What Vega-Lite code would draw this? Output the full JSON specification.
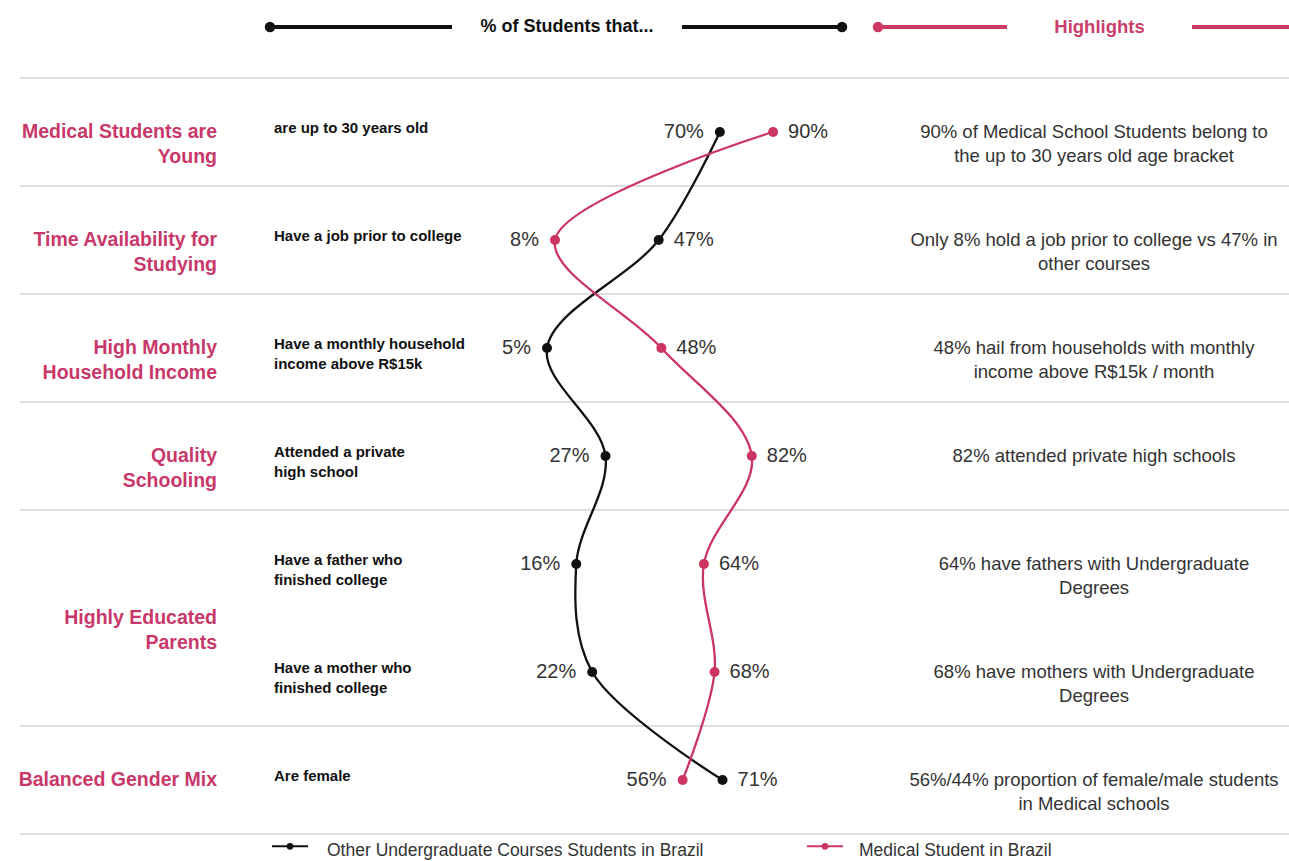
{
  "$schema": "https://vega.github.io/schema/vega-lite/v6.json",
  "background": "white",
  "padding": {"left": 18, "top": 0, "right": 0, "bottom": 0},
  "spacing": 0,
  "config": {
    "view": {"stroke": null},
    "concat": {"spacing": 0},
    "text": {"font": "Liberation Sans"}
  },
  "datasets": {
    "items": [
      {"key": "age", "statement": "are up to 30 years old", "highlight": "90% of Medical School Students belong to\nthe up to 30 years old age bracket"},
      {"key": "job", "statement": "Have a job prior to college", "highlight": "Only 8% hold a job prior to college vs 47% in\nother courses"},
      {"key": "income", "statement": "Have a monthly household\nincome above R$15k", "highlight": "48% hail from households with monthly\nincome above R$15k / month"},
      {"key": "school", "statement": "Attended a private\nhigh school", "highlight": "82% attended private high schools"},
      {"key": "father", "statement": "Have a father who\nfinished college", "highlight": "64% have fathers with Undergraduate\nDegrees"},
      {"key": "mother", "statement": "Have a mother who\nfinished college", "highlight": "68% have mothers with Undergraduate\nDegrees"},
      {"key": "female", "statement": "Are female", "highlight": "56%/44% proportion of female/male students\nin Medical schools"}
    ],
    "groups": [
      {"group": "Medical Students are\nYoung", "first": "age"},
      {"group": "Time Availability for\nStudying", "first": "job"},
      {"group": "High Monthly\nHousehold Income", "first": "income"},
      {"group": "Quality\nSchooling", "first": "school"},
      {"group": "Highly Educated\nParents", "first": "father"},
      {"group": "Balanced Gender Mix", "first": "female"}
    ],
    "values": [
      {"series": "Other Undergraduate Courses Students in Brazil", "key": "age", "pct": 0.70},
      {"series": "Other Undergraduate Courses Students in Brazil", "key": "job", "pct": 0.47},
      {"series": "Other Undergraduate Courses Students in Brazil", "key": "income", "pct": 0.05},
      {"series": "Other Undergraduate Courses Students in Brazil", "key": "school", "pct": 0.27},
      {"series": "Other Undergraduate Courses Students in Brazil", "key": "father", "pct": 0.16},
      {"series": "Other Undergraduate Courses Students in Brazil", "key": "mother", "pct": 0.22},
      {"series": "Other Undergraduate Courses Students in Brazil", "key": "female", "pct": 0.71},
      {"series": "Medical Student in Brazil", "key": "age", "pct": 0.90},
      {"series": "Medical Student in Brazil", "key": "job", "pct": 0.08},
      {"series": "Medical Student in Brazil", "key": "income", "pct": 0.48},
      {"series": "Medical Student in Brazil", "key": "school", "pct": 0.82},
      {"series": "Medical Student in Brazil", "key": "father", "pct": 0.64},
      {"series": "Medical Student in Brazil", "key": "mother", "pct": 0.68},
      {"series": "Medical Student in Brazil", "key": "female", "pct": 0.56}
    ]
  },
  "vconcat": [
    {
      "spacing": 0,
      "bounds": "flush",
      "hconcat": [
        {"width": 250, "height": 54, "data": {"values": [{}]}, "mark": {"type": "text"}, "encoding": {"text": {"value": ""}}},
        {"width": 182, "height": 54, "data": {"values": [{}]}, "layer": [
          {"mark": {"type": "rule", "color": "#111111", "strokeWidth": 4}, "encoding": {"y": {"datum": 0, "type": "quantitative", "scale": {"domain": [-1, 1]}, "axis": null}}},
          {"mark": {"type": "point", "filled": true, "color": "#111111", "size": 110, "opacity": 1}, "encoding": {"x": {"datum": 0, "type": "quantitative", "scale": {"domain": [0, 1]}, "axis": null}, "y": {"datum": 0, "type": "quantitative", "scale": {"domain": [-1, 1]}, "axis": null}}}
        ]},
        {"width": 230, "height": 54, "data": {"values": [{"label": "% of Students that..."}]}, "mark": {"type": "text", "fontSize": 18, "fontWeight": "bold", "color": "#111111"}, "encoding": {"text": {"field": "label"}}},
        {"width": 160, "height": 54, "data": {"values": [{}]}, "layer": [
          {"mark": {"type": "rule", "color": "#111111", "strokeWidth": 4}, "encoding": {"y": {"datum": 0, "type": "quantitative", "scale": {"domain": [-1, 1]}, "axis": null}}},
          {"mark": {"type": "point", "filled": true, "color": "#111111", "size": 110, "opacity": 1}, "encoding": {"x": {"datum": 1, "type": "quantitative", "scale": {"domain": [0, 1]}, "axis": null}, "y": {"datum": 0, "type": "quantitative", "scale": {"domain": [-1, 1]}, "axis": null}}}
        ]},
        {"width": 36, "height": 54, "data": {"values": [{}]}, "mark": {"type": "text"}, "encoding": {"text": {"value": ""}}},
        {"width": 129, "height": 54, "data": {"values": [{}]}, "layer": [
          {"mark": {"type": "rule", "color": "#cc3a64", "strokeWidth": 4}, "encoding": {"y": {"datum": 0, "type": "quantitative", "scale": {"domain": [-1, 1]}, "axis": null}}},
          {"mark": {"type": "point", "filled": true, "color": "#cc3a64", "size": 110, "opacity": 1}, "encoding": {"x": {"datum": 0, "type": "quantitative", "scale": {"domain": [0, 1]}, "axis": null}, "y": {"datum": 0, "type": "quantitative", "scale": {"domain": [-1, 1]}, "axis": null}}}
        ]},
        {"width": 185, "height": 54, "data": {"values": [{"label": "Highlights"}]}, "mark": {"type": "text", "fontSize": 18.5, "fontWeight": "bold", "color": "#c9406c"}, "encoding": {"text": {"field": "label"}}},
        {"width": 99, "height": 54, "data": {"values": [{}]}, "mark": {"type": "rule", "color": "#cc3a64", "strokeWidth": 4}, "encoding": {"y": {"datum": 0, "type": "quantitative", "scale": {"domain": [-1, 1]}, "axis": null}}}
      ]
    },
    {
      "spacing": 0,
      "bounds": "flush",
      "hconcat": [
        {
          "width": 197, "height": 780,
          "layer": [
            {"data": {"name": "groups"}, "mark": {"type": "rule", "color": "#dedede", "strokeWidth": 2}, "encoding": {"y": {"field": "first", "type": "nominal", "bandPosition": 0, "scale": {"type": "band", "domain": ["age", "job", "income", "school", "father", "mother", "female"], "paddingInner": 0, "paddingOuter": 0.1111, "align": 1}, "axis": null}}},
            {"data": {"name": "groups"}, "transform": [{"filter": "datum.first === 'female'"}], "mark": {"type": "rule", "color": "#dedede", "strokeWidth": 2}, "encoding": {"y": {"field": "first", "type": "nominal", "bandPosition": 1, "scale": {"type": "band", "domain": ["age", "job", "income", "school", "father", "mother", "female"], "paddingInner": 0, "paddingOuter": 0.1111, "align": 1}, "axis": null}}},
            {"data": {"name": "groups"}, "transform": [{"filter": "datum.first !== 'father'"}], "mark": {"type": "text", "align": "right", "x": "width", "fontSize": 19.5, "fontWeight": "bold", "color": "#c8386a", "lineBreak": "\n", "lineHeight": 25}, "encoding": {"y": {"field": "first", "type": "nominal", "scale": {"type": "band", "domain": ["age", "job", "income", "school", "father", "mother", "female"], "paddingInner": 0, "paddingOuter": 0.1111, "align": 1}, "axis": null}, "text": {"field": "group"}}},
            {"data": {"name": "groups"}, "transform": [{"filter": "datum.first === 'father'"}], "mark": {"type": "text", "align": "right", "x": "width", "fontSize": 19.5, "fontWeight": "bold", "color": "#c8386a", "lineBreak": "\n", "lineHeight": 25}, "encoding": {"y": {"field": "first", "type": "nominal", "bandPosition": 1, "scale": {"type": "band", "domain": ["age", "job", "income", "school", "father", "mother", "female"], "paddingInner": 0, "paddingOuter": 0.1111, "align": 1}, "axis": null}, "text": {"field": "group"}}}
          ]
        },
        {
          "width": 255, "height": 780,
          "layer": [
            {"data": {"name": "groups"}, "mark": {"type": "rule", "color": "#dedede", "strokeWidth": 2}, "encoding": {"y": {"field": "first", "type": "nominal", "bandPosition": 0, "scale": {"type": "band", "domain": ["age", "job", "income", "school", "father", "mother", "female"], "paddingInner": 0, "paddingOuter": 0.1111, "align": 1}, "axis": null}}},
            {"data": {"name": "groups"}, "transform": [{"filter": "datum.first === 'female'"}], "mark": {"type": "rule", "color": "#dedede", "strokeWidth": 2}, "encoding": {"y": {"field": "first", "type": "nominal", "bandPosition": 1, "scale": {"type": "band", "domain": ["age", "job", "income", "school", "father", "mother", "female"], "paddingInner": 0, "paddingOuter": 0.1111, "align": 1}, "axis": null}}},
            {"data": {"name": "items"}, "mark": {"type": "text", "align": "left", "x": 0, "dx": 57, "dy": -4, "fontSize": 15, "fontWeight": "bold", "color": "#111111", "lineBreak": "\n", "lineHeight": 20}, "encoding": {"y": {"field": "key", "type": "nominal", "scale": {"type": "band", "domain": ["age", "job", "income", "school", "father", "mother", "female"], "paddingInner": 0, "paddingOuter": 0.1111, "align": 1}, "axis": null}, "text": {"field": "statement"}}}
          ]
        },
        {
          "width": 425, "height": 780,
          "layer": [
            {"data": {"name": "groups"}, "mark": {"type": "rule", "color": "#dedede", "strokeWidth": 2}, "encoding": {"y": {"field": "first", "type": "nominal", "bandPosition": 0, "scale": {"type": "band", "domain": ["age", "job", "income", "school", "father", "mother", "female"], "paddingInner": 0, "paddingOuter": 0.1111, "align": 1}, "axis": null}}},
            {"data": {"name": "groups"}, "transform": [{"filter": "datum.first === 'female'"}], "mark": {"type": "rule", "color": "#dedede", "strokeWidth": 2}, "encoding": {"y": {"field": "first", "type": "nominal", "bandPosition": 1, "scale": {"type": "band", "domain": ["age", "job", "income", "school", "father", "mother", "female"], "paddingInner": 0, "paddingOuter": 0.1111, "align": 1}, "axis": null}}},
            {"data": {"name": "values"}, "mark": {"type": "line", "interpolate": "catmull-rom", "strokeWidth": 2.3}, "encoding": {
              "x": {"field": "pct", "type": "quantitative", "scale": {"domain": [-0.232, 1.366], "nice": false, "zero": false}, "axis": null},
              "y": {"field": "key", "type": "nominal", "scale": {"type": "band", "domain": ["age", "job", "income", "school", "father", "mother", "female"], "paddingInner": 0, "paddingOuter": 0.1111, "align": 1}, "axis": null},
              "color": {"field": "series", "type": "nominal", "scale": {"domain": ["Other Undergraduate Courses Students in Brazil", "Medical Student in Brazil"], "range": ["#111111", "#cc3561"]}, "legend": null},
              "order": {"value": null}
            }},
            {"data": {"name": "values"}, "mark": {"type": "point", "filled": true, "size": 100, "opacity": 1}, "encoding": {
              "x": {"field": "pct", "type": "quantitative", "scale": {"domain": [-0.232, 1.366], "nice": false, "zero": false}, "axis": null},
              "y": {"field": "key", "type": "nominal", "scale": {"type": "band", "domain": ["age", "job", "income", "school", "father", "mother", "female"], "paddingInner": 0, "paddingOuter": 0.1111, "align": 1}, "axis": null},
              "color": {"field": "series", "type": "nominal", "scale": {"domain": ["Other Undergraduate Courses Students in Brazil", "Medical Student in Brazil"], "range": ["#111111", "#cc3561"]}, "legend": null}
            }},
            {"data": {"name": "values"}, "transform": [{"joinaggregate": [{"op": "min", "field": "pct", "as": "lo"}], "groupby": ["key"]}, {"filter": "datum.pct === datum.lo"}], "mark": {"type": "text", "align": "right", "dx": -16, "fontSize": 20, "color": "#333333"}, "encoding": {
              "x": {"field": "pct", "type": "quantitative", "scale": {"domain": [-0.232, 1.366], "nice": false, "zero": false}, "axis": null},
              "y": {"field": "key", "type": "nominal", "scale": {"type": "band", "domain": ["age", "job", "income", "school", "father", "mother", "female"], "paddingInner": 0, "paddingOuter": 0.1111, "align": 1}, "axis": null},
              "text": {"field": "pct", "type": "quantitative", "format": ".0%"}
            }},
            {"data": {"name": "values"}, "transform": [{"joinaggregate": [{"op": "min", "field": "pct", "as": "lo"}], "groupby": ["key"]}, {"filter": "datum.pct > datum.lo"}], "mark": {"type": "text", "align": "left", "dx": 15, "fontSize": 20, "color": "#333333"}, "encoding": {
              "x": {"field": "pct", "type": "quantitative", "scale": {"domain": [-0.232, 1.366], "nice": false, "zero": false}, "axis": null},
              "y": {"field": "key", "type": "nominal", "scale": {"type": "band", "domain": ["age", "job", "income", "school", "father", "mother", "female"], "paddingInner": 0, "paddingOuter": 0.1111, "align": 1}, "axis": null},
              "text": {"field": "pct", "type": "quantitative", "format": ".0%"}
            }}
          ]
        },
        {
          "width": 394, "height": 780,
          "layer": [
            {"data": {"name": "groups"}, "mark": {"type": "rule", "color": "#dedede", "strokeWidth": 2}, "encoding": {"y": {"field": "first", "type": "nominal", "bandPosition": 0, "scale": {"type": "band", "domain": ["age", "job", "income", "school", "father", "mother", "female"], "paddingInner": 0, "paddingOuter": 0.1111, "align": 1}, "axis": null}}},
            {"data": {"name": "groups"}, "transform": [{"filter": "datum.first === 'female'"}], "mark": {"type": "rule", "color": "#dedede", "strokeWidth": 2}, "encoding": {"y": {"field": "first", "type": "nominal", "bandPosition": 1, "scale": {"type": "band", "domain": ["age", "job", "income", "school", "father", "mother", "female"], "paddingInner": 0, "paddingOuter": 0.1111, "align": 1}, "axis": null}}},
            {"data": {"name": "items"}, "mark": {"type": "text", "align": "center", "fontSize": 18.5, "color": "#333333", "lineBreak": "\n", "lineHeight": 24}, "encoding": {"y": {"field": "key", "type": "nominal", "scale": {"type": "band", "domain": ["age", "job", "income", "school", "father", "mother", "female"], "paddingInner": 0, "paddingOuter": 0.1111, "align": 1}, "axis": null}, "text": {"field": "highlight"}}}
          ]
        }
      ]
    },
    {
      "spacing": 0,
      "bounds": "flush",
      "hconcat": [
        {"width": 252, "height": 26, "data": {"values": [{}]}, "mark": {"type": "text"}, "encoding": {"text": {"value": ""}}},
        {"width": 36, "height": 26, "data": {"values": [{}]}, "layer": [
          {"mark": {"type": "rule", "color": "#111111", "strokeWidth": 2}, "encoding": {"y": {"datum": 0, "type": "quantitative", "scale": {"domain": [-1.3, 1]}, "axis": null}}},
          {"mark": {"type": "point", "filled": true, "color": "#111111", "size": 45, "opacity": 1}, "encoding": {"y": {"datum": 0, "type": "quantitative", "scale": {"domain": [-1.3, 1]}, "axis": null}}}
        ]},
        {"width": 499, "height": 26, "data": {"values": [{"label": "Other Undergraduate Courses Students in Brazil"}]}, "mark": {"type": "text", "align": "left", "x": 0, "dx": 19, "dy": 3, "fontSize": 17.5, "color": "#333333"}, "encoding": {"text": {"field": "label"}}},
        {"width": 36, "height": 26, "data": {"values": [{}]}, "layer": [
          {"mark": {"type": "rule", "color": "#cc3561", "strokeWidth": 2}, "encoding": {"y": {"datum": 0, "type": "quantitative", "scale": {"domain": [-1.3, 1]}, "axis": null}}},
          {"mark": {"type": "point", "filled": true, "color": "#cc3561", "size": 45, "opacity": 1}, "encoding": {"y": {"datum": 0, "type": "quantitative", "scale": {"domain": [-1.3, 1]}, "axis": null}}}
        ]},
        {"width": 448, "height": 26, "data": {"values": [{"label": "Medical Student in Brazil"}]}, "mark": {"type": "text", "align": "left", "x": 0, "dx": 16, "dy": 3, "fontSize": 17.5, "color": "#333333"}, "encoding": {"text": {"field": "label"}}}
      ]
    }
  ]
}
